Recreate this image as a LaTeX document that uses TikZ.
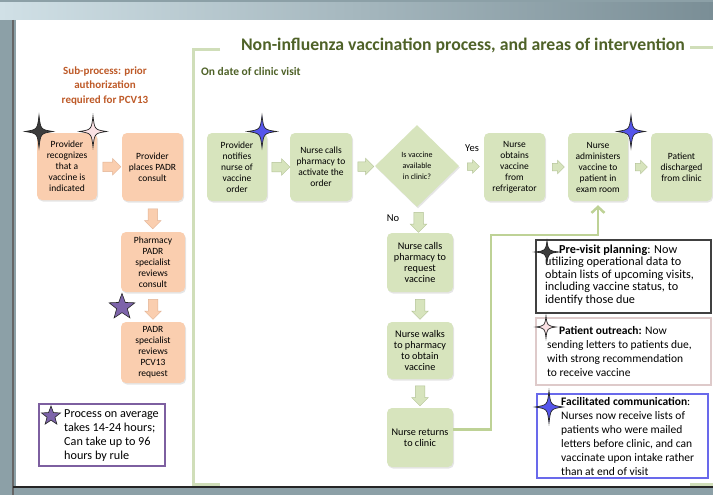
\documentclass[tikz,border=0pt]{standalone}
\usepackage{fontspec}
\setmainfont{Carlito}
\usepackage{xcolor}
\usepackage{tikz}
\usetikzlibrary{calc,shapes,shapes.arrows,shapes.geometric,positioning,shadows}
\usetikzlibrary{arrows,arrows.meta}

\definecolor{boxgreen}{RGB}{215,228,189}
\definecolor{greenedge}{RGB}{180,195,150}
\definecolor{boxorange}{RGB}{250,206,175}
\definecolor{orangeedge}{RGB}{225,178,148}
\definecolor{titlegreen}{RGB}{79,98,40}
\definecolor{subbrown}{RGB}{190,90,40}
\definecolor{linegreen}{RGB}{190,210,150}
\definecolor{bracketgreen}{RGB}{208,222,185}
\definecolor{starblue}{RGB}{85,85,235}
\definecolor{starpink}{RGB}{250,225,228}
\definecolor{starpurple}{RGB}{125,100,170}
\definecolor{starblack}{RGB}{60,60,60}
\definecolor{legblue}{RGB}{105,105,235}
\definecolor{legpink}{RGB}{222,202,202}
\definecolor{notepurple}{RGB}{125,95,160}
\definecolor{framegray}{RGB}{140,160,167}
\definecolor{framelight}{RGB}{208,224,230}
\definecolor{framedark}{RGB}{122,142,150}

% four-pointed star: x, y, half width, half height, fill
\newcommand{\fourstar}[5]{%
  \draw[fill=#5, draw=black!85, line width=0.7pt, shift={(#1,#2)}]
    (0,-#4) .. controls (0.12*#3,-0.12*#4) .. (#3,0)
    .. controls (0.12*#3,0.12*#4) .. (0,#4)
    .. controls (-0.12*#3,0.12*#4) .. (-#3,0)
    .. controls (-0.12*#3,-0.12*#4) .. cycle;}

\begin{document}
\begin{tikzpicture}[x=1pt,y=-1pt]
      \tikzstyle{onode} = [rectangle, rounded corners=5pt, fill=boxorange, inner sep=0pt, align=center,
        font=\fontsize{9.5}{11}\selectfont, drop shadow={opacity=0.2,shadow xshift=1pt,shadow yshift=-1.5pt}]
      \tikzstyle{gnode} = [rectangle, rounded corners=5pt, fill=boxgreen, inner sep=0pt, align=center,
        minimum width=61pt, minimum height=68pt,
        font=\fontsize{9.5}{11}\selectfont, drop shadow={opacity=0.2,shadow xshift=1pt,shadow yshift=-1.5pt}]
      \tikzstyle{vnode} = [gnode, minimum width=66pt, font=\fontsize{10.2}{11}\selectfont]
      \tikzstyle{dnode} = [diamond, fill=boxgreen, inner sep=0pt, align=center, minimum width=84pt, minimum height=82pt,
        font=\fontsize{8}{11}\selectfont, drop shadow={opacity=0.2,shadow xshift=1pt,shadow yshift=-1.5pt}]
      \tikzstyle{garrow} = [single arrow, fill=boxgreen, draw=greenedge, line width=0.5pt, minimum height=18pt,
        inner xsep=0pt, inner ysep=4.5pt, single arrow head extend=3.5pt]
      \tikzstyle{sarrow} = [garrow, minimum height=12pt, inner ysep=3.5pt, single arrow head extend=3pt]
      \tikzstyle{darrow} = [garrow, shape border rotate=270, minimum height=20pt, inner xsep=4.5pt, inner ysep=0pt]
      \tikzstyle{oarrow} = [garrow, fill=boxorange, draw=orangeedge]
      \tikzstyle{odarrow} = [darrow, fill=boxorange, draw=orangeedge]
      \tikzstyle{lbox} = [rectangle, anchor=north west, line width=1.5pt, inner sep=0pt]
      \tikzstyle{ltext} = [anchor=west, align=left, inner sep=0pt]
      \tikzstyle{pstar} = [star, star points=5, star point ratio=2.4, fill=starpurple, draw=black!85,
        line width=0.6pt, inner sep=0pt]
      \tikzstyle{gline} = [linegreen, line width=2.5pt, -{Straight Barb[length=6pt,width=13pt]}]

      \useasboundingbox (0,0) rectangle (713,495);

      % slide frame
      \fill[framegray] (0,0) rectangle (713,495);
      \shade[left color=framelight, right color=framedark] (0,3) rectangle (713,20);
      \fill[white] (16,20) rectangle (713,486);
      \draw[black!60, line width=1.2pt] (13,20) -- (13,495);
      \draw[black!85, line width=2pt] (13,487) -- (713,487);
      \draw[bracketgreen, line width=3pt] (220,50) -- (193,50) -- (193,484) -- (220,484);
      \draw[bracketgreen, line width=3pt] (690,48) -- (713,48);
      \draw[bracketgreen, line width=3pt] (690,484) -- (713,484);

      % headings
      \node[font=\bfseries\fontsize{17.7}{20}\selectfont, text=titlegreen] (title) at (463,46)
        {Non-influenza vaccination process, and areas of intervention};
      \node[font=\bfseries\fontsize{11.5}{14}\selectfont, text=titlegreen, anchor=west, inner sep=0pt] (visit) at (201,72)
        {On date of clinic visit};
      \node[font=\bfseries\fontsize{11}{14.5}\selectfont, text=subbrown, align=center] (subproc) at (105,86)
        {Sub-process: prior\\authorization\\required for PCV13};

      % sub-process
      \node[onode, minimum width=60pt, minimum height=67pt] (recog) at (67,166.5)
        {Provider\\recognizes\\that a\\vaccine is\\indicated};
      \node[onode, minimum width=61pt, minimum height=68pt] (placecons) at (152.5,167)
        {Provider\\places PADR\\consult};
      \node[onode, minimum width=64pt, minimum height=60pt] (pharmrev) at (153,262)
        {Pharmacy\\PADR\\specialist\\reviews\\consult};
      \node[onode, minimum width=64pt, minimum height=61pt] (padrrev) at (153,352.5)
        {PADR\\specialist\\reviews\\PCV13\\request};

      % main process
      \node[gnode, minimum width=60pt] (notify) at (237,167) {Provider\\notifies\\nurse of\\vaccine\\order};
      \node[gnode, minimum width=62pt] (callact) at (321,167) {Nurse calls\\pharmacy to\\activate the\\order};
      \node[dnode] (avail) at (417,166) {Is vaccine\\available\\in clinic?};
      \node[gnode] (obtain) at (514.5,167) {Nurse\\obtains\\vaccine\\from\\refrigerator};
      \node[gnode, minimum width=60pt] (admin) at (598,167) {Nurse\\administers\\vaccine to\\patient in\\exam room};
      \node[gnode] (disch) at (681.5,167) {Patient\\discharged\\from clinic};
      \node[vnode, minimum height=59pt] (callreq) at (420,262.5)
        {Nurse calls\\pharmacy to\\request\\vaccine};
      \node[vnode, minimum height=57pt] (walk) at (420,350.5)
        {Nurse walks\\to pharmacy\\to obtain\\vaccine};
      \node[vnode, minimum height=59pt] (back) at (420,437.5)
        {Nurse returns\\to clinic};
      \node[font=\fontsize{10.5}{12}\selectfont] (yes) at (472,148) {Yes};
      \node[font=\fontsize{10.5}{12}\selectfont] (no) at (393,218) {No};

      % connections
      \node[oarrow] (a1) at ($(recog.east)!0.5!(placecons.west)$) {};
      \node[odarrow] (a2) at ($(placecons.south)!0.5!(pharmrev.north)$) {};
      \node[odarrow] (a3) at ($(pharmrev.south)!0.5!(padrrev.north)$) {};
      \node[garrow] (a4) at ($(notify.east)!0.5!(callact.west)$) {};
      \node[garrow, minimum height=16pt] (a5) at ($(callact.east)!0.5!(avail.west)$) {};
      \node[sarrow] (a6) at ($(avail.east)!0.5!(obtain.west)$) {};
      \node[sarrow] (a7) at ($(obtain.east)!0.5!(admin.west)$) {};
      \node[sarrow] (a8) at ($(admin.east)!0.5!(disch.west)$) {};
      \node[darrow] (a9) at ($(avail.south)!0.5!(callreq.north)$) {};
      \node[darrow] (a10) at ($(callreq.south)!0.5!(walk.north)$) {};
      \node[darrow] (a11) at ($(walk.south)!0.5!(back.north)$) {};
      \coordinate (bend) at (491,235);
      \draw[gline, shorten >=4pt] ([yshift=8pt]back.east) -| (bend) -| (admin.south);

      % stars on the process
      \fourstar{39}{131.5}{14}{16}{starblack}
      \fourstar{93}{131.5}{13.5}{15.5}{starpink}
      \fourstar{262}{131.5}{14.5}{16}{starblue}
      \fourstar{631}{131.5}{14}{16}{starblue}
      \node[pstar, minimum size=27pt] (pstar1) at (122,307) {};

      % note box
      \node[lbox, draw=notepurple, minimum width=126pt, minimum height=62pt] (notebox) at (38,403) {};
      \node[pstar, minimum size=20pt] (pstar2) at (51,416) {};
      \node[ltext, font=\fontsize{12.2}{14}\selectfont] (notetext) at (64,436)
        {Process on average\\takes 14-24 hours;\\Can take up to 96\\hours by rule};

      % legend
      \node[lbox, draw=black!75, minimum width=175pt, minimum height=73pt] (planbox) at (535,239) {};
      \node[ltext, font=\fontsize{12.2}{12.5}\selectfont] (plantext) at (545,275)
        {\hspace*{14pt}\textbf{Pre-visit planning}: Now\\utilizing operational data to\\obtain lists of upcoming visits,\\including vaccine status, to\\identify those due};
      \fourstar{547}{252}{12}{11}{starblack}

      \node[lbox, draw=legpink, minimum width=175pt, minimum height=67pt] (reachbox) at (535,317) {};
      \node[ltext, font=\fontsize{11.5}{14}\selectfont] (reachtext) at (547,351)
        {\hspace*{12pt}\textbf{Patient outreach:} Now\\sending letters to patients due,\\with strong recommendation\\to receive vaccine};
      \fourstar{546}{327}{10}{11}{starpink}

      \node[lbox, draw=legblue, minimum width=171pt, minimum height=84pt] (commbox) at (536,393) {};
      \node[ltext, font=\fontsize{11.5}{14}\selectfont] (commtext) at (561,436)
        {\textbf{Facilitated communication}:\\Nurses now receive lists of\\patients who were mailed\\letters before clinic, and can\\vaccinate upon intake rather\\than at end of visit};
      \fourstar{549}{407}{14}{16}{starblue}
\end{tikzpicture}
\end{document}
